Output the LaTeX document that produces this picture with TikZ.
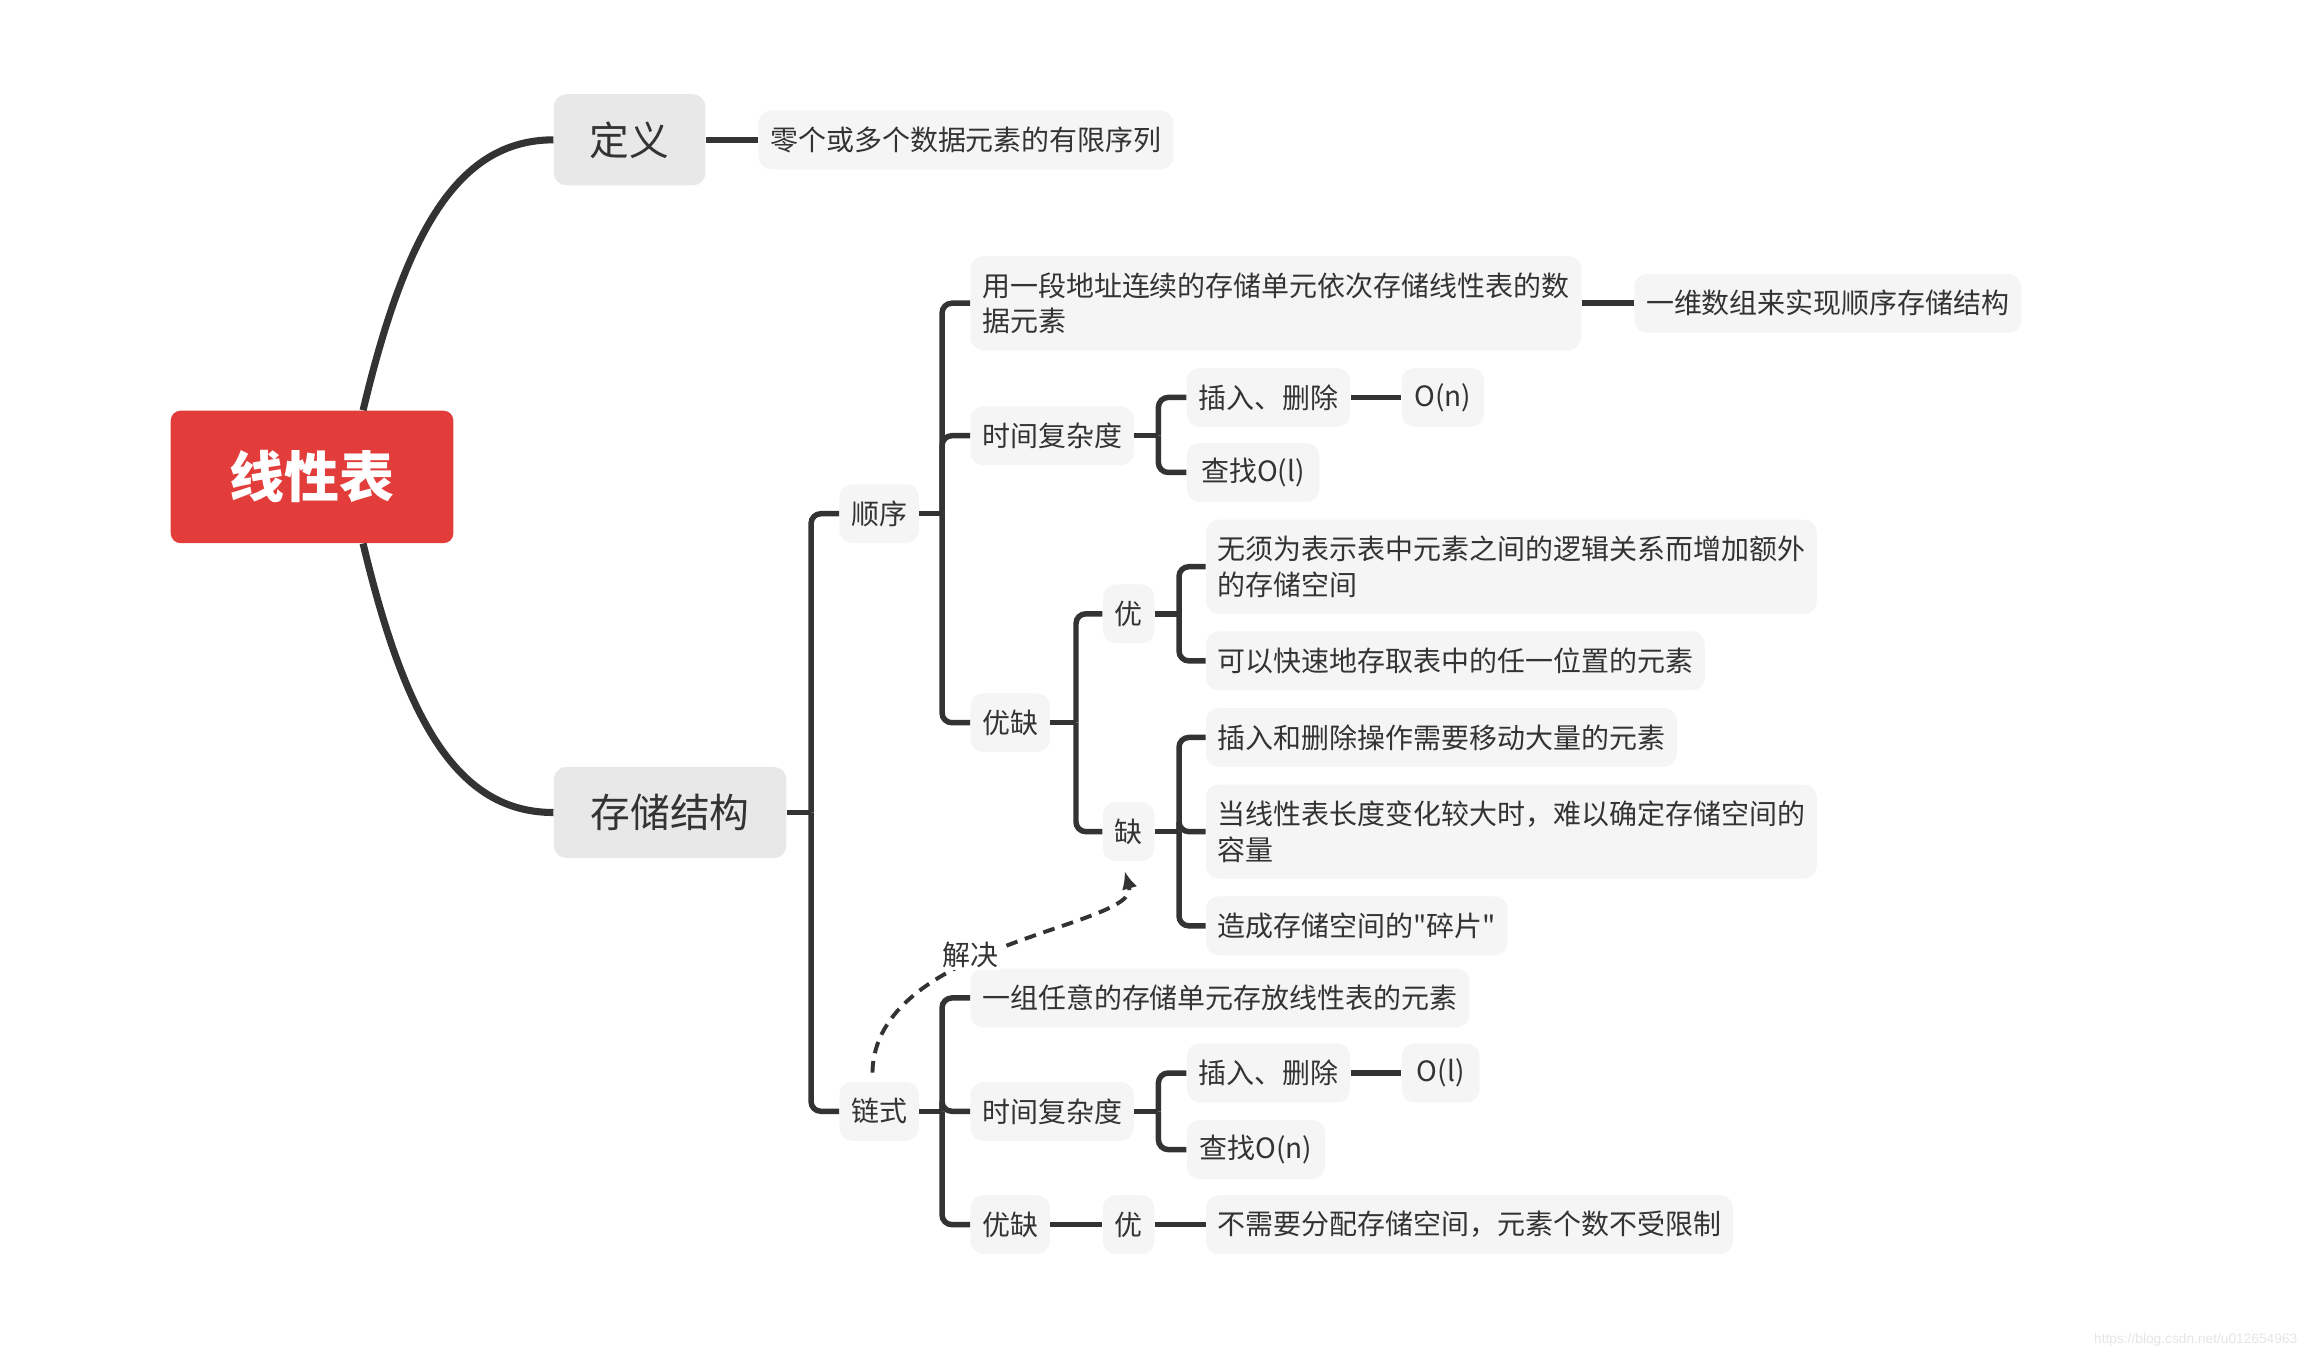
\documentclass[tikz,border=0pt]{standalone}
\usepackage{fontspec}
\setmainfont{Noto Sans CJK SC}[Ligatures=TeXOff]
\newfontfamily\wmfont{Liberation Sans}
\usetikzlibrary{arrows.meta}
\definecolor{ink}{HTML}{333333}
\definecolor{rootred}{HTML}{E33D3B}
\definecolor{boxA}{HTML}{E8E8E8}
\definecolor{boxB}{HTML}{F5F5F5}
\begin{document}
\begin{tikzpicture}[x=0.75pt,y=-0.75pt,
  box/.style={rounded corners=6.5pt, fill=boxB, text=ink, inner xsep=6pt, inner ysep=0pt,
    anchor=west, font=\fontsize{14.25}{18}\selectfont, align=left, minimum height=30pt},
  bigbox/.style={box, fill=boxA, font=\fontsize{20.25}{24}\selectfont, minimum height=46.5pt},
  wd/.style={minimum width=#1*0.75pt},
  twoline/.style={minimum height=48pt},
  link/.style={draw=ink, line width=2.8pt},
  branch/.style={link, rounded corners=5pt},
  mainlink/.style={draw=ink, line width=3.6pt},
]
\useasboundingbox (0,0) rectangle (1568,923);

% root
\node[fill=rootred, text=white, rounded corners=5pt, minimum width=144pt, minimum height=67.5pt,
      font=\fontsize{28}{30}\selectfont\bfseries] (root) at (212,324) {线性表};

% level 1
\node[bigbox, wd=103] (dingyi) at (376,95) {定义};
\node[bigbox, wd=158] (cunchu) at (376,552) {存储结构};

\node[box, wd=282] (def) at (515,95) {零个或多个数据元素的有限序列};

% level 2
\node[box, wd=53] (shunxu) at (570,349) {顺序};
\node[box, wd=53] (lianshi) at (570,755) {链式};

% sequential branch
\node[box, wd=415, twoline] (s1) at (659,206) {用一段地址连续的存储单元依次存储线性表的数\\据元素};
\node[box, wd=263] (s1a) at (1110,206) {一维数组来实现顺序存储结构};
\node[box, wd=110] (s2) at (659,296) {时间复杂度};
\node[box, wd=110] (s2a) at (806,270) {插入、删除};
\node[box, wd=56] (s2a1) at (952,270) {O(n)};
\node[box, wd=90] (s2b) at (806,321) {查找O(l)};
\node[box, wd=54] (s3) at (659,491) {优缺};
\node[box, wd=34] (s3a) at (749,417) {优};
\node[box, wd=415, twoline] (s3a1) at (819,385) {无须为表示表中元素之间的逻辑关系而增加额外\\的存储空间};
\node[box, wd=339] (s3a2) at (819,449) {可以快速地存取表中的任一位置的元素};
\node[box, wd=34] (que) at (749,565) {缺};
\node[box, wd=320] (s3b1) at (819,501) {插入和删除操作需要移动大量的元素};
\node[box, wd=415, twoline] (s3b2) at (819,565) {当线性表长度变化较大时，难以确定存储空间的\\容量};
\node[box, wd=202] (s3b3) at (819,629) {造成存储空间的"碎片"};

% linked branch
\node[box, wd=339] (l1) at (659,678) {一组任意的存储单元存放线性表的元素};
\node[box, wd=110] (l2) at (659,755) {时间复杂度};
\node[box, wd=110] (l2a) at (806,729) {插入、删除};
\node[box, wd=53] (l2a1) at (952,729) {O(l)};
\node[box, wd=94] (l2b) at (806,781) {查找O(n)};
\node[box, wd=54] (l3) at (659,832) {优缺};
\node[box, wd=34] (l3a) at (749,832) {优};
\node[box, wd=358] (l3a1) at (819,832) {不需要分配存储空间，元素个数不受限制};

% trunk positions
\coordinate (tA) at (551,0);
\coordinate (tB) at (640,0);
\coordinate (tC) at (787,0);
\coordinate (tD) at (731,0);
\coordinate (tE) at (801,0);

% main curves
\draw[mainlink] ([xshift=26pt]root.north) .. controls (275,160) and (310,95) .. (dingyi.west);
\draw[mainlink] ([xshift=26pt]root.south) .. controls (275,488) and (310,552) .. (cunchu.west);

% straight links
\draw[link] (dingyi.east) -- (def.west);
\draw[link] (s1.east) -- (s1a.west);
\draw[link] (s2a.east) -- (s2a1.west);
\draw[link] (l2a.east) -- (l2a1.west);
\draw[link] (l3.east) -- (l3a.west);
\draw[link] (l3a.east) -- (l3a1.west);

% 存储结构 -> 顺序 / 链式
\draw[link] (cunchu.east) -- (cunchu.east -| tA);
\draw[branch] (cunchu.east -| tA) |- (shunxu.west);
\draw[branch] (cunchu.east -| tA) |- (lianshi.west);

% 顺序 children
\draw[link] (shunxu.east) -- (shunxu.east -| tB);
\draw[branch] (shunxu.east -| tB) |- (s1.west);
\draw[branch] (shunxu.east -| tB) |- (s2.west);
\draw[branch] (shunxu.east -| tB) |- (s3.west);

\draw[link] (s2.east) -- (s2.east -| tC);
\draw[branch] (s2.east -| tC) |- (s2a.west);
\draw[branch] (s2.east -| tC) |- (s2b.west);

\draw[link] (s3.east) -- (s3.east -| tD);
\draw[branch] (s3.east -| tD) |- (s3a.west);
\draw[branch] (s3.east -| tD) |- (que.west);

\draw[link] (s3a.east) -- (s3a.east -| tE);
\draw[branch] (s3a.east -| tE) |- (s3a1.west);
\draw[branch] (s3a.east -| tE) |- (s3a2.west);

\draw[link] (que.east) -- (que.east -| tE);
\draw[branch] (que.east -| tE) |- (s3b1.west);
\draw[branch] (que.east -| tE) |- (s3b2.west);
\draw[branch] (que.east -| tE) |- (s3b3.west);

% 链式 children
\draw[link] (lianshi.east) -- (lianshi.east -| tB);
\draw[branch] (lianshi.east -| tB) |- (l1.west);
\draw[branch] (lianshi.east -| tB) |- (l2.west);
\draw[branch] (lianshi.east -| tB) |- (l3.west);

\draw[link] (l2.east) -- (l2.east -| tC);
\draw[branch] (l2.east -| tC) |- (l2a.west);
\draw[branch] (l2.east -| tC) |- (l2b.west);

% dashed relation
\draw[ink, line width=2pt, dash pattern=on 6pt off 4pt, -{Latex[length=9pt,width=8pt]}]
  ([xshift=-3.4pt,yshift=4.5pt]lianshi.north) .. controls (594,640) and (775,630) .. ([xshift=-2pt,yshift=-5pt]que.south)
  node[pos=0.41, yshift=2.5pt, fill=white, text=ink, inner sep=1pt, font=\fontsize{14.25}{18}\selectfont] (jj) {解决};

% watermark
\node[anchor=east, text=black!10, inner sep=0pt, font=\wmfont\fontsize{7}{8}\selectfont] (wm) at (1561,910) {https://blog.csdn.net/u012654963};
\end{tikzpicture}
\end{document}
